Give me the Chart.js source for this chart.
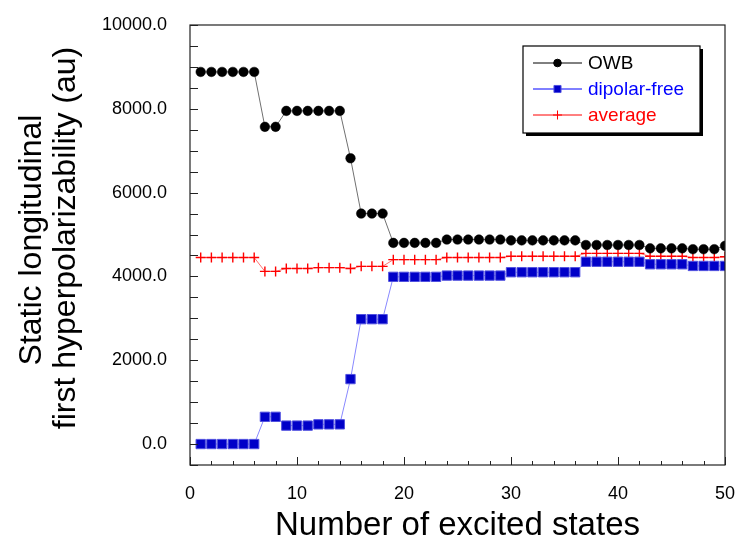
<!DOCTYPE html>
<html>
<head>
<meta charset="utf-8">
<script src="https://cdn.jsdelivr.net/npm/chart.js@4.4.0/dist/chart.umd.min.js"></script>
<style>
  html, body { margin: 0; padding: 0; background: #fff; }
</style>
</head>
<body>
<canvas id="betaChart" width="737" height="539"></canvas>
<script>
// Number of excited states included in the sum-over-states expression
const states = [1, 2, 3, 4, 5, 6, 7, 8, 9, 10, 11, 12, 13, 14, 15, 16, 17, 18, 19, 20,
  21, 22, 23, 24, 25, 26, 27, 28, 29, 30, 31, 32, 33, 34, 35, 36, 37, 38, 39, 40,
  41, 42, 43, 44, 45, 46, 47, 48, 49, 50];

// beta (au)
const owb = [8880, 8880, 8880, 8880, 8880, 8880, 7570, 7570, 7950, 7950,
  7950, 7950, 7950, 7950, 6820, 5500, 5500, 5500, 4800, 4800,
  4800, 4800, 4800, 4880, 4880, 4880, 4880, 4880, 4880, 4860,
  4860, 4860, 4860, 4860, 4860, 4860, 4750, 4750, 4750, 4750,
  4750, 4750, 4670, 4670, 4670, 4670, 4650, 4650, 4650, 4730];
const dipolarFree = [0, 0, 0, 0, 0, 0, 650, 650, 440, 440,
  440, 470, 470, 470, 1550, 2980, 2980, 2980, 3990, 3990,
  3990, 3990, 3990, 4020, 4020, 4020, 4020, 4020, 4020, 4100,
  4100, 4100, 4100, 4100, 4100, 4100, 4350, 4350, 4350, 4350,
  4350, 4350, 4290, 4290, 4290, 4290, 4250, 4250, 4250, 4250];
const average = [4450, 4450, 4450, 4450, 4450, 4450, 4120, 4120, 4190, 4190,
  4190, 4210, 4210, 4210, 4190, 4240, 4240, 4240, 4400, 4400,
  4400, 4400, 4400, 4450, 4450, 4450, 4450, 4450, 4450, 4480,
  4480, 4480, 4480, 4480, 4480, 4480, 4550, 4550, 4550, 4550,
  4550, 4550, 4480, 4480, 4480, 4480, 4450, 4450, 4450, 4470];

const seriesNames = ["OWB", "dipolar-free", "average"];
const legendText = ["#000000", "#0000ff", "#ff0000"];
const legendLine = ["#000000", "#0000ff", "#ff0000"];

const xTitle = "Number of excited states";
const yTitle = ["Static longitudinal", "first hyperpolarizability (au)"];

const FONT = "'Liberation Sans', Arial, Helvetica, sans-serif";

function toPoints(ys) {
  return states.map((x, i) => ({ x: x, y: ys[i] }));
}

// keep the plot box where the layout padding puts it
function noScalePadding(s) {
  s.paddingLeft = 0;
  s.paddingRight = 0;
  s.paddingTop = 0;
  s.paddingBottom = 0;
}

// frame, inward tick marks, axis titles and the boxed legend
const frameAndLegend = {
  id: "frameAndLegend",
  afterDatasetsDraw(chart) {
    const ctx = chart.ctx;
    const a = chart.chartArea;
    const xs = chart.scales.x;
    const ys = chart.scales.y;
    ctx.save();
    ctx.strokeStyle = "#222";
    ctx.lineWidth = 1.2;
    ctx.strokeRect(a.left, a.top, a.right - a.left, a.bottom - a.top);

    ctx.lineWidth = 1;
    ctx.beginPath();
    for (let v = 0; v <= 50; v += 2) {
      const px = Math.round(xs.getPixelForValue(v)) + 0.5;
      const len = v % 10 === 0 ? 8 : 4;
      ctx.moveTo(px, a.bottom);
      ctx.lineTo(px, a.bottom - len);
    }
    for (let v = -500; v <= 10000; v += 500) {
      const py = Math.round(ys.getPixelForValue(v)) + 0.5;
      ctx.moveTo(a.left, py);
      ctx.lineTo(a.left + 8, py);
    }
    ctx.stroke();

    // axis titles
    ctx.fillStyle = "#000";
    ctx.font = "33px " + FONT;
    ctx.textAlign = "center";
    ctx.textBaseline = "alphabetic";
    ctx.fillText(xTitle, (a.left + a.right) / 2, 535);

    ctx.font = "32px " + FONT;
    ctx.save();
    ctx.translate(41, 240);
    ctx.rotate(-Math.PI / 2);
    ctx.fillText(yTitle[0], 0, 0);
    ctx.restore();
    ctx.save();
    ctx.translate(75, 238);
    ctx.rotate(-Math.PI / 2);
    ctx.fillText(yTitle[1], 0, 0);
    ctx.restore();

    // legend box with drop shadow
    const bx = 523, by = 46, bw = 177, bh = 87;
    ctx.fillStyle = "#000";
    ctx.fillRect(bx + 3, by + 3, bw, bh);
    ctx.fillStyle = "#fff";
    ctx.fillRect(bx, by, bw, bh);
    ctx.strokeStyle = "#000";
    ctx.lineWidth = 1.2;
    ctx.strokeRect(bx, by, bw, bh);

    const sizes = [3.8, 5, 4.5];
    chart.data.datasets.forEach((ds, i) => {
      const y = 63 + i * 26;
      ctx.strokeStyle = legendLine[i];
      ctx.lineWidth = 1;
      ctx.beginPath();
      ctx.moveTo(533, y);
      ctx.lineTo(582, y);
      ctx.stroke();
      ctx.fillStyle = ds.pointBackgroundColor;
      ctx.strokeStyle = ds.pointBorderColor;
      Chart.helpers.drawPoint(ctx, {
        pointStyle: ds.pointStyle,
        radius: sizes[i],
        rotation: 0,
        borderWidth: ds.pointStyle === "cross" ? 1.2 : 0.5
      }, 557.5, y);
      ctx.fillStyle = legendText[i];
      ctx.font = "19px " + FONT;
      ctx.textAlign = "left";
      ctx.textBaseline = "middle";
      ctx.fillText(ds.label, 588, y + 1);
    });
    ctx.restore();
  }
};

new Chart(document.getElementById("betaChart"), {
  type: "line",
  data: {
    datasets: [
      {
        label: seriesNames[0],
        data: toPoints(owb),
        borderColor: "#707070",
        borderWidth: 1,
        pointStyle: "circle",
        pointRadius: 4.8,
        pointBackgroundColor: "#000000",
        pointBorderColor: "#000000",
        pointBorderWidth: 0.5,
        tension: 0
      },
      {
        label: seriesNames[1],
        data: toPoints(dipolarFree),
        borderColor: "#8888ff",
        borderWidth: 1,
        pointStyle: "rect",
        pointRadius: 6.6,
        pointBackgroundColor: "#0000c8",
        pointBorderColor: "#5050e0",
        pointBorderWidth: 1,
        tension: 0
      },
      {
        label: seriesNames[2],
        data: toPoints(average),
        borderColor: "#ff7070",
        borderWidth: 1,
        pointStyle: "cross",
        pointRadius: 5,
        pointBackgroundColor: "#ff0000",
        pointBorderColor: "#ff0000",
        pointBorderWidth: 1.4,
        tension: 0
      }
    ]
  },
  options: {
    responsive: false,
    animation: false,
    layout: { padding: { top: 25, right: 12, left: 0, bottom: 0 } },
    plugins: {
      legend: { display: false },
      tooltip: { enabled: false }
    },
    scales: {
      x: {
        type: "linear",
        min: 0,
        max: 50,
        grid: { display: false },
        border: { display: false },
        ticks: {
          stepSize: 2,
          autoSkip: false,
          maxRotation: 0,
          padding: 10,
          color: "#000",
          font: { family: FONT, size: 18 },
          callback: v => (v % 10 === 0 ? String(v) : "")
        },
        afterFit: s => { s.height = 74; noScalePadding(s); }
      },
      y: {
        min: -500,
        max: 10000,
        grid: { display: false },
        border: { display: false },
        ticks: {
          stepSize: 500,
          autoSkip: false,
          padding: 15,
          color: "#000",
          font: { family: FONT, size: 18 },
          callback: v => (v % 2000 === 0 ? v.toFixed(1) : "")
        },
        afterFit: s => { s.width = 190; noScalePadding(s); }
      }
    }
  },
  plugins: [frameAndLegend]
});
</script>
</body>
</html>
